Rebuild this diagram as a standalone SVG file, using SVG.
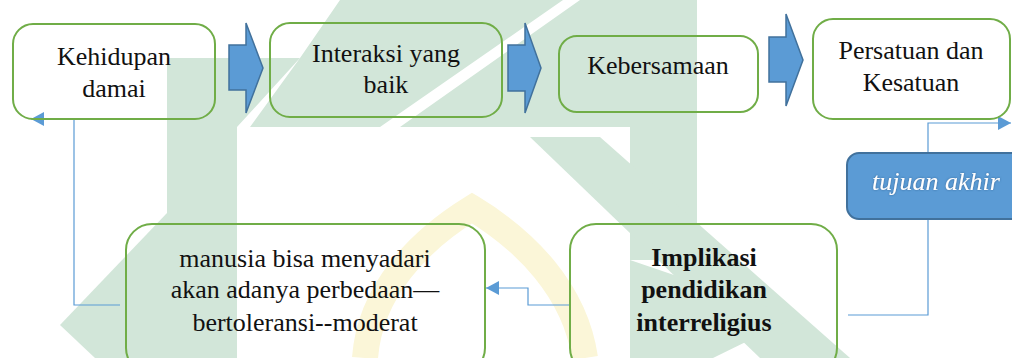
<svg xmlns="http://www.w3.org/2000/svg" width="1012" height="358" viewBox="0 0 1012 358">
  <defs>
    <marker id="ah" markerUnits="userSpaceOnUse" markerWidth="14" markerHeight="14" refX="13" refY="7" orient="auto">
      <path d="M0,0 L13,7 L0,14 z" fill="#5B9BD5"/>
    </marker>
    <filter id="glow" x="-10%" y="-30%" width="120%" height="160%">
      <feDropShadow dx="0" dy="0" stdDeviation="1.2" flood-color="#2E5C8A" flood-opacity="0.8"/>
    </filter>
  </defs>
  <rect width="1012" height="358" fill="#ffffff"/>

  <g id="watermark" fill="#d2e6d9" stroke="none">
    <polygon points="167,58 300,58 237,127 237,358 167,358"/>
    <polygon points="300,58 340,0 563,0 380,127 250,127"/>
    <polygon points="580,0 697,0 697,260 630,260 630,127 400,127"/>
    <polygon points="530,137 600,137 850,358 760,358"/>
    <polygon points="630,260 797,317 713,358 630,358"/>
    <polygon points="167,213 60,325 95,358 167,358"/>
    <path d="M365,358 C370,290 420,240 472,208 C525,240 575,290 585,358" fill="none" stroke="#fbf6d8" stroke-width="26"/>
  </g>

  <g id="connectors" fill="none" stroke="#5B9BD5" stroke-width="1.2">
    <path d="M570,305 H528 V288 H486" marker-end="url(#ah)"/>
    <path d="M120,305 H74 V119 H31" marker-end="url(#ah)"/>
    <path d="M848,315 H928 V123 H1011" marker-end="url(#ah)"/>
  </g>

  <g id="block-arrows" fill="#5B9BD5" stroke="#41719C" stroke-width="1.5">
    <path id="arrow1" d="M229,45 H246 V23 L263,68 L246,113 V90 H229 Z"/>
    <path id="arrow2" d="M508,45 H525 V23 L541,68 L525,113 V91 H508 Z"/>
    <path id="arrow3" d="M769,37 H786 V14 L803,60 L786,106 V82 H769 Z"/>
  </g>

  <g id="node-kehidupan" font-family="Liberation Serif" font-size="26" fill="#111" text-anchor="middle">
    <rect x="13" y="24" width="202" height="95" rx="20" fill="none" stroke="#70AD47" stroke-width="2"/>
    <text x="114" y="65">Kehidupan</text>
    <text x="114" y="97">damai</text>
  </g>
  <g id="node-interaksi" font-family="Liberation Serif" font-size="26" fill="#111" text-anchor="middle">
    <rect x="270" y="23" width="232" height="94" rx="20" fill="none" stroke="#70AD47" stroke-width="2"/>
    <text x="386" y="62">Interaksi yang</text>
    <text x="386" y="93">baik</text>
  </g>
  <g id="node-kebersamaan" font-family="Liberation Serif" font-size="26" fill="#111" text-anchor="middle">
    <rect x="559" y="36" width="199" height="76" rx="18" fill="none" stroke="#70AD47" stroke-width="2"/>
    <text x="658" y="74">Kebersamaan</text>
  </g>
  <g id="node-persatuan" font-family="Liberation Serif" font-size="26" fill="#111" text-anchor="middle">
    <rect x="813" y="19" width="197" height="100" rx="20" fill="none" stroke="#70AD47" stroke-width="2"/>
    <text x="911" y="59">Persatuan dan</text>
    <text x="911" y="91">Kesatuan</text>
  </g>
  <g id="node-tujuan" font-family="Liberation Serif" font-size="26" text-anchor="middle">
    <rect x="847" y="153" width="180" height="66" rx="12" fill="#5B9BD5" stroke="#41719C" stroke-width="2"/>
    <text x="936" y="190" font-style="italic" fill="#ffffff" filter="url(#glow)">tujuan akhir</text>
  </g>
  <g id="node-manusia" font-family="Liberation Serif" font-size="26" fill="#111" text-anchor="middle">
    <rect x="126" y="224" width="359" height="150" rx="26" fill="none" stroke="#70AD47" stroke-width="2"/>
    <text x="305" y="267">manusia bisa menyadari</text>
    <text x="305" y="298">akan adanya perbedaan&#8212;</text>
    <text x="305" y="331">bertoleransi--moderat</text>
  </g>
  <g id="node-implikasi" font-family="Liberation Serif" font-size="26" font-weight="bold" fill="#111" text-anchor="middle">
    <rect x="570" y="224" width="267" height="150" rx="26" fill="none" stroke="#70AD47" stroke-width="2"/>
    <text x="704" y="266">Implikasi</text>
    <text x="704" y="298">pendidikan</text>
    <text x="704" y="331">interreligius</text>
  </g>
</svg>
